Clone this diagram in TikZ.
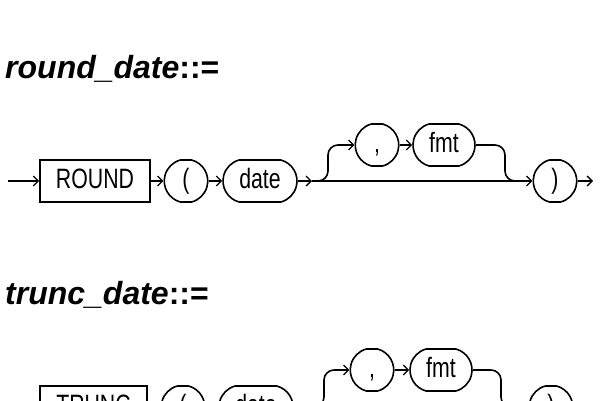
\documentclass[tikz,border=0pt]{standalone}
\usepackage{fontspec}
\setmainfont{Liberation Sans}
\newfontfamily\railfont[FakeStretch=0.76]{Liberation Sans}
\usetikzlibrary{arrows.meta,shapes.misc}

\begin{document}
\begin{tikzpicture}[x=1pt,y=-1pt,
  >={Straight Barb[length=5pt,width=10pt,line width=1.3pt]},
  rail/.style={line width=1.6pt,->},
  track/.style={line width=1.6pt,rounded corners=10pt},
  keyword/.style={draw,line width=1.6pt,minimum height=42pt,inner sep=0pt,
    text height=19pt,text depth=5pt,
    font=\railfont\fontsize{28}{30}\selectfont},
  token/.style={draw,line width=1.6pt,rounded rectangle,
    rounded rectangle arc length=150,minimum height=42pt,inner xsep=0pt,
    text height=19pt,text depth=5pt,
    font=\railfont\fontsize{28}{30}\selectfont},
  title/.style={anchor=base west,inner sep=0pt,
    font=\bfseries\fontsize{32}{36}\selectfont}]
  % Page
  \useasboundingbox (0,0) rectangle (600,400);
  \clip (0,0) rectangle (600,400);
  %
  % round_date
  \node[title] (t1) at (5,78) {\textit{round\_date}::=};
  \coordinate (in1) at (8,181);
  \node[keyword,minimum width=110pt] (round) at (95,181) {ROUND};
  \node[token,minimum width=38pt] (lp1) at (186,181) {(};
  \node[token,minimum width=74pt] (date1) at (260,181) {date};
  \coordinate (sp1) at (312,181);
  \node[token,minimum width=39pt] (comma1) at (377,145) {,};
  \node[token,minimum width=62pt] (fmt1) at (444,145) {fmt};
  \coordinate (jn1) at (520,181);
  \node[token,minimum width=40pt] (rp1) at (555,181) {)};
  \coordinate (out1) at (593,181);
  \draw[rail] (in1) -- (round);
  \draw[rail] (round) -- (lp1);
  \draw[rail] (lp1) -- (date1);
  \draw[rail] (date1) -- (sp1);
  \draw[rail] (sp1) -- (rp1);
  \draw[rail,track] (sp1) -| ([xshift=16pt]sp1 |- comma1) -- (comma1);
  \draw[rail] (comma1) -- (fmt1);
  \draw[track] (fmt1) -| ([xshift=-15pt]jn1) -- (jn1);
  \draw[rail] (rp1) -- (out1);
  %
  % trunc_date
  \node[title] (t2) at (5,304) {\textit{trunc\_date}::=};
  \coordinate (in2) at (8,407);
  \node[keyword,minimum width=107pt] (trunc) at (93.5,407) {TRUNC};
  \node[token,minimum width=38pt] (lp2) at (183,407) {(};
  \node[token,minimum width=74pt] (date2) at (256,407) {date};
  \coordinate (sp2) at (308,407);
  \node[token,minimum width=39pt] (comma2) at (372,370) {,};
  \node[token,minimum width=62pt] (fmt2) at (441,370) {fmt};
  \coordinate (jn2) at (516,407);
  \node[token,minimum width=40pt] (rp2) at (551,407) {)};
  \coordinate (out2) at (589,407);
  \draw[rail] (in2) -- (trunc);
  \draw[rail] (trunc) -- (lp2);
  \draw[rail] (lp2) -- (date2);
  \draw[rail] (date2) -- (sp2);
  \draw[rail] (sp2) -- (rp2);
  \draw[rail,track] (sp2) -| ([xshift=16pt]sp2 |- comma2) -- (comma2);
  \draw[rail] (comma2) -- (fmt2);
  \draw[track] (fmt2) -| ([xshift=-15pt]jn2) -- (jn2);
  \draw[rail] (rp2) -- (out2);
  %
\end{tikzpicture}
\end{document}
